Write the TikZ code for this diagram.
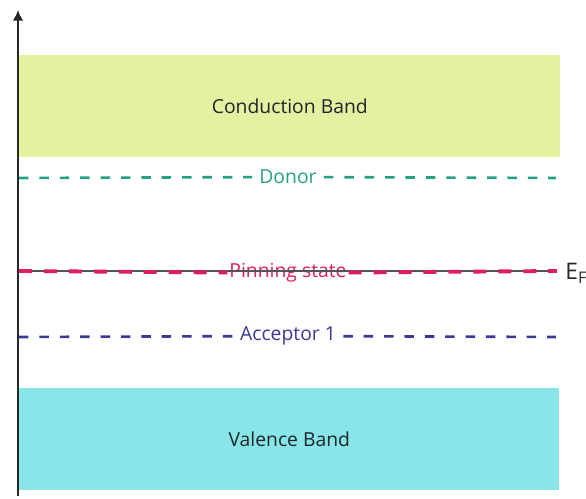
\documentclass[tikz,border=0pt]{standalone}
\usepackage{fontspec}
\setmainfont{Open Sans}
\usetikzlibrary{arrows.meta}

\definecolor{cbandfill}{RGB}{228,241,160}
\definecolor{vbandfill}{RGB}{136,229,232}
\definecolor{donorcol}{RGB}{38,160,132}
\definecolor{pincol}{RGB}{222,30,92}
\definecolor{acccol}{RGB}{58,58,150}
\definecolor{axiscol}{RGB}{40,40,40}
\definecolor{labelcol}{RGB}{30,38,44}

\begin{document}
\begin{tikzpicture}[x=0.02cm,y=-0.02cm]
\tikzstyle{every node}+=[font=\fontsize{11}{13}\selectfont]
\tikzstyle{band}=[inner sep=0pt,anchor=north west,text=labelcol]
\tikzstyle{level}=[line width=1.5pt,dash pattern=on 5.4pt off 6.2pt]
\tikzstyle{levellabel}=[fill=white,inner sep=4pt]
\useasboundingbox (0,0) rectangle (586,499);
% bands
\node [band,fill=cbandfill,minimum width=10.82cm,minimum height=2.04cm] (cband) at (19,55) {};
\node [text=labelcol] (cbandtext) at (cband.center) {Conduction Band};
\node [band,fill=vbandfill,minimum width=10.8cm,minimum height=2.04cm] (vband) at (19,388) {};
\node [text=labelcol] (vbandtext) at (vband.center) {Valence Band};
% axis
\coordinate (ax0) at (18,496);
\coordinate (ax1) at (18,10);
\draw [axiscol,line width=1.1pt,-{Latex[length=6pt,width=6pt]}] (ax0) -- (ax1);
% donor
\coordinate (d1) at (19,178);
\coordinate (d2) at (556,178);
\node [levellabel,text=donorcol] (donor) at (288,177) {Donor};
\draw [level,donorcol] (d1) -- (donor) -- (d2);
% pinning state
\coordinate (p1) at (19,271);
\coordinate (p2) at (557,271);
\node [text=pincol,inner sep=1pt] (pin) at (288,273) {Pinning state};
\draw [axiscol!80,line width=0.7pt] (p1) -- (p2);
\draw [level,pincol,line width=2.2pt,dash pattern=on 7.4pt off 6.8pt] (p1) -- (pin) -- (p2);
\node [text=axiscol,anchor=west,inner sep=0pt,font=\fontsize{13}{15}\selectfont] (ef) at (565,273) {E\textsubscript{F}};
% acceptor
\coordinate (a1) at (19,337);
\coordinate (a2) at (556,337);
\node [levellabel,text=acccol] (acc) at (288,336) {Acceptor 1};
\draw [level,acccol] (a1) -- (acc) -- (a2);
\end{tikzpicture}
\end{document}
